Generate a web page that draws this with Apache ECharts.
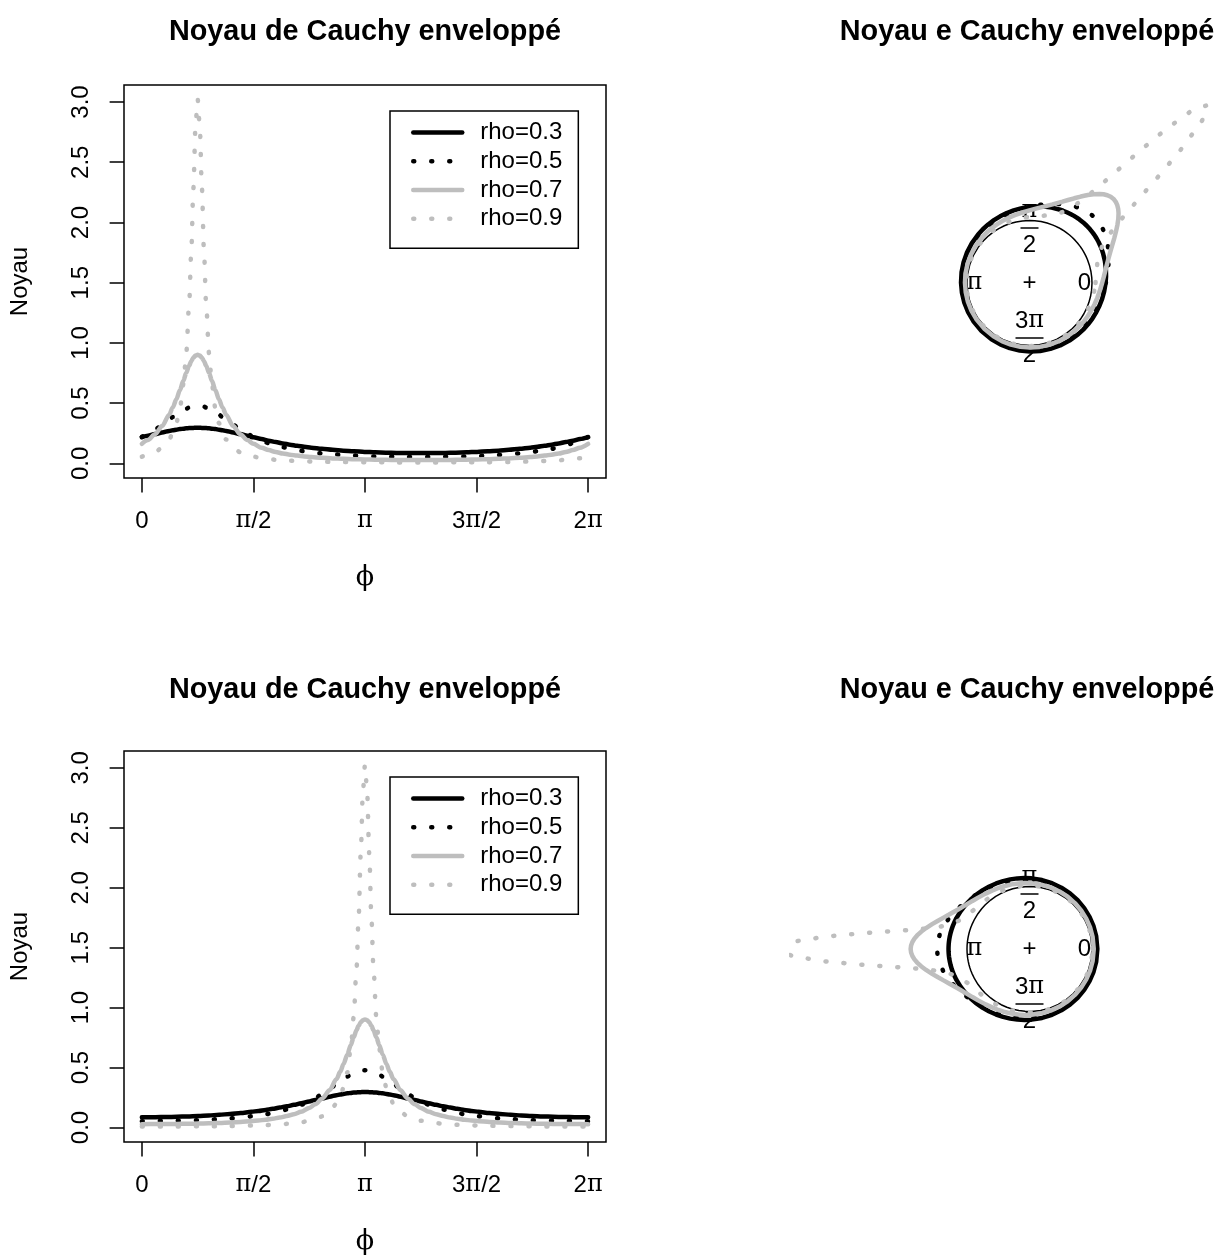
<!DOCTYPE html>
<html>
<head>
<meta charset="utf-8">
<script src="https://cdn.jsdelivr.net/npm/echarts@6.0.0/dist/echarts.min.js"></script>
<style>
html, body { margin: 0; padding: 0; background: #fff; }
#chart { width: 1218px; height: 1256px; }
</style>
</head>
<body>
<div id="chart"></div>
<script>
// distance |phi - mu| (radians), denser around the mode
const offsets = [0, 0.03, 0.06, 0.09, 0.12, 0.16, 0.2, 0.25, 0.3, 0.35, 0.4, 0.5, 0.6, 0.7, 0.7854,
  0.9, 1.0, 1.1, 1.2, 1.3, 1.4, 1.5, 1.6, 1.75, 1.9, 2.05, 2.2, 2.35, 2.5, 2.65, 2.8, 2.95, 3.1416];
// density at those distances
const rho03 = [0.2956, 0.2954, 0.2949, 0.2941, 0.2930, 0.2910, 0.2885, 0.2847, 0.2802, 0.2751, 0.2695,
  0.2570, 0.2435, 0.2295, 0.2175, 0.2020, 0.1891, 0.1771, 0.1660, 0.1558, 0.1466, 0.1383, 0.1308,
  0.1210, 0.1128, 0.1060, 0.1004, 0.0958, 0.0922, 0.0895, 0.0875, 0.0863, 0.0857];
const rho05 = [0.4775, 0.4766, 0.4741, 0.4699, 0.4641, 0.4543, 0.4422, 0.4247, 0.4051, 0.3843, 0.3629,
  0.3205, 0.2811, 0.2460, 0.2199, 0.1900, 0.1682, 0.1499, 0.1345, 0.1215, 0.1105, 0.1012, 0.0933,
  0.0836, 0.0759, 0.0698, 0.0649, 0.0611, 0.0582, 0.0560, 0.0545, 0.0535, 0.0531];
const rho07 = [0.902, 0.8956, 0.8773, 0.8484, 0.8111, 0.7524, 0.6885, 0.6079, 0.5322, 0.4641, 0.4048,
  0.3105, 0.2426, 0.1936, 0.1623, 0.1310, 0.1106, 0.0949, 0.0826, 0.0728, 0.0648, 0.0584, 0.0530,
  0.0467, 0.0418, 0.0380, 0.0351, 0.0328, 0.0311, 0.0298, 0.0289, 0.0283, 0.0281];
const rho09 = [3.024, 2.797, 2.284, 1.749, 1.318, 0.917, 0.659, 0.458, 0.335, 0.254, 0.199,
  0.131, 0.0932, 0.0698, 0.0563, 0.0438, 0.0361, 0.0304, 0.0261, 0.0228, 0.0201, 0.0180, 0.0162,
  0.0142, 0.0126, 0.0115, 0.0105, 0.0098, 0.0093, 0.0089, 0.0086, 0.0085, 0.0084];

const seriesNames = ['rho=0.3', 'rho=0.5', 'rho=0.7', 'rho=0.9'];
const seriesValues = [rho03, rho05, rho07, rho09];
const panelCenters = [0.7854, 3.1416];   // mu of top row, bottom row
const leftTitle = 'Noyau de Cauchy enveloppé';
const rightTitle = 'Noyau e Cauchy enveloppé';

const xTickValues = [0, Math.PI / 2, Math.PI, 3 * Math.PI / 2, 2 * Math.PI];
const xTickLabels = ['0', '{p|π}/2', '{p|π}', '3{p|π}/2', '2{p|π}'];
const yTickValues = [0, 0.5, 1, 1.5, 2, 2.5, 3];
const circleLabelAngles = [0, Math.PI / 2, Math.PI, 3 * Math.PI / 2];
const circleLabelTexts = ['0', '{n|π}\n{bar|\u00a0}\n{d|2}', '{p|π}', '{d|3}{n|π}\n{barw|\u00a0}\n{d|2}'];

const FONT = 'Liberation Sans, Arimo, Helvetica, Arial, sans-serif';
const SERIF = 'DejaVu Serif, Liberation Serif, serif';
const GREY = '#bebebe';
const rowShift = [0, 666];
const polarMax = [4.4, 3.85];
const unitPx = 62.5;
const labelRadius = 0.88;

const lineStyles = [
  { color: '#000', width: 4.5, type: 'solid', cap: 'round' },
  { color: '#000', width: 4.5, type: [1, 17], cap: 'round' },
  { color: GREY, width: 4.5, type: 'solid', cap: 'round' },
  { color: GREY, width: 4.5, type: [1, 17], cap: 'round' }
];

// mirror the half curve around mu and keep one turn [0, 2pi]
function wrapped(vals, mu) {
  const half = [];
  for (let i = offsets.length - 1; i > 0; i--) half.push([-offsets[i], vals[i]]);
  for (let i = 0; i < offsets.length; i++) half.push([offsets[i], vals[i]]);
  const all = [];
  [-2 * Math.PI, 0, 2 * Math.PI].forEach(k => {
    half.forEach(p => {
      const x = mu + p[0] + k;
      if (x > -1e-3 && x < 2 * Math.PI + 1e-3) all.push([x, p[1]]);
    });
  });
  all.sort((a, b) => a[0] - b[0]);
  // drop repeated angles
  const out = [];
  all.forEach(p => {
    if (!out.length || p[0] - out[out.length - 1][0] > 1e-3) out.push(p);
  });
  return out;
}

function xLabel(v) {
  for (let i = 0; i < xTickValues.length; i++) {
    if (Math.abs(v - xTickValues[i]) < 1e-6) return xTickLabels[i];
  }
  return '';
}

const chart = echarts.init(document.getElementById('chart'));

const series = [];
const graphic = [];
rowShift.forEach((dy, row) => {
  const mu = panelCenters[row];
  const curves = seriesValues.map(v => wrapped(v, mu));

  curves.forEach((pts, k) => {
    series.push({
      name: seriesNames[k], type: 'line', xAxisIndex: row, yAxisIndex: row,
      data: pts, symbol: 'none', showSymbol: false, smooth: 0.3, smoothMonotone: 'x',
      lineStyle: lineStyles[k], clip: true, silent: true
    });
  });

  // circular view: unit circle, labels, then 1 + density
  series.push({
    type: 'line', coordinateSystem: 'polar', polarIndex: row, symbol: 'none', silent: true,
    data: curves[0].map(p => [1, p[0]]), lineStyle: { color: '#000', width: 1.5 }
  });
  series.push({
    type: 'scatter', coordinateSystem: 'polar', polarIndex: row, symbolSize: 0, silent: true,
    itemStyle: { color: '#000', opacity: 1 },
    data: circleLabelAngles.map(a => [labelRadius, a]).concat([[0, 0]]),
    label: {
      show: true, position: 'inside', color: '#000', opacity: 1, fontSize: 24, fontFamily: FONT,
      textBorderWidth: 0,
      formatter: p => (p.dataIndex < circleLabelTexts.length ? circleLabelTexts[p.dataIndex] : '+'),
      rich: {
        p: { fontFamily: SERIF, fontSize: 24, color: '#000' },
        n: { fontFamily: SERIF, fontSize: 24, lineHeight: 26, color: '#000', align: 'center' },
        bar: { width: 18, height: 1.5, lineHeight: 8, fontSize: 2, backgroundColor: '#000', align: 'center' },
        barw: { width: 28, height: 1.5, lineHeight: 8, fontSize: 2, backgroundColor: '#000', align: 'center' },
        d: { fontFamily: FONT, fontSize: 24, lineHeight: 26, color: '#000', align: 'center' }
      }
    }
  });
  curves.forEach((pts, k) => {
    series.push({
      name: seriesNames[k], type: 'line', coordinateSystem: 'polar', polarIndex: row,
      data: pts.map(p => [1 + p[1], p[0]]), symbol: 'none', showSymbol: false,
      lineStyle: lineStyles[k], clip: true, silent: true
    });
  });

  graphic.push({
    type: 'text', x: 365, y: 32 + (row ? 658 : 0),
    style: { text: leftTitle, font: 'bold 28.8px ' + FONT, fill: '#000', textAlign: 'center', textVerticalAlign: 'middle' }
  });
  graphic.push({
    type: 'text', x: 1027, y: 32 + (row ? 658 : 0),
    style: { text: rightTitle, font: 'bold 28.8px ' + FONT, fill: '#000', textAlign: 'center', textVerticalAlign: 'middle' }
  });
});

const option = {
  animation: false,
  backgroundColor: '#fff',
  textStyle: { fontFamily: FONT },
  graphic: graphic,
  legend: rowShift.map(dy => ({
    data: seriesNames, orient: 'vertical', left: 390, top: 111 + dy,
    itemWidth: 49, itemHeight: 14, itemGap: 0,
    padding: [7, 16, 15, 21],
    borderColor: '#000', borderWidth: 1.5, borderRadius: 0,
    selectedMode: false,
    lineStyle: { width: 4.5 },
    itemStyle: { opacity: 0 },
    textStyle: { fontSize: 24, lineHeight: 28.8, color: '#000', fontFamily: FONT, padding: [0, 0, 0, 13] }
  })),
  grid: rowShift.map(dy => ({
    left: 124, top: 85 + dy, width: 482, height: 393, show: true,
    borderColor: '#000', borderWidth: 1.5, backgroundColor: 'transparent'
  })),
  xAxis: rowShift.map((dy, i) => ({
    gridIndex: i, type: 'value', min: -0.2513, max: 6.5345,
    axisLine: { show: false, onZero: false },
    axisTick: { show: true, customValues: xTickValues, length: 14.4, lineStyle: { color: '#000', width: 1.5 } },
    axisLabel: {
      customValues: xTickValues, margin: 31, fontSize: 24, color: '#000', fontFamily: FONT,
      formatter: xLabel, rich: { p: { fontFamily: SERIF, fontSize: 24, color: '#000' } }
    },
    splitLine: { show: false },
    name: 'ϕ', nameLocation: 'middle', nameGap: 86,
    nameTextStyle: { fontFamily: SERIF, fontSize: 27, color: '#000' }
  })),
  yAxis: rowShift.map((dy, i) => ({
    gridIndex: i, type: 'value', min: -0.121, max: 3.141,
    axisLine: { show: false, onZero: false },
    axisTick: { show: true, customValues: yTickValues, length: 14.4, lineStyle: { color: '#000', width: 1.5 } },
    axisLabel: {
      customValues: yTickValues, rotate: 90, margin: 31, fontSize: 24, color: '#000', fontFamily: FONT,
      formatter: v => v.toFixed(1)
    },
    splitLine: { show: false },
    name: 'Noyau', nameLocation: 'middle', nameGap: 92,
    nameTextStyle: { fontFamily: FONT, fontSize: 24, color: '#000' }
  })),
  polar: rowShift.map((dy, i) => ({
    center: [1029.5, 283 + dy], radius: [0, polarMax[i] * unitPx]
  })),
  angleAxis: rowShift.map((dy, i) => ({
    polarIndex: i, type: 'value', min: 0, max: 2 * Math.PI, startAngle: 0, clockwise: false,
    axisLine: { show: false }, axisTick: { show: false }, axisLabel: { show: false },
    splitLine: { show: false }, splitArea: { show: false }
  })),
  radiusAxis: rowShift.map((dy, i) => ({
    polarIndex: i, type: 'value', min: 0, max: polarMax[i],
    axisLine: { show: false }, axisTick: { show: false }, axisLabel: { show: false },
    splitLine: { show: false }, splitArea: { show: false }
  })),
  series: series
};

chart.setOption(option);
</script>
</body>
</html>
